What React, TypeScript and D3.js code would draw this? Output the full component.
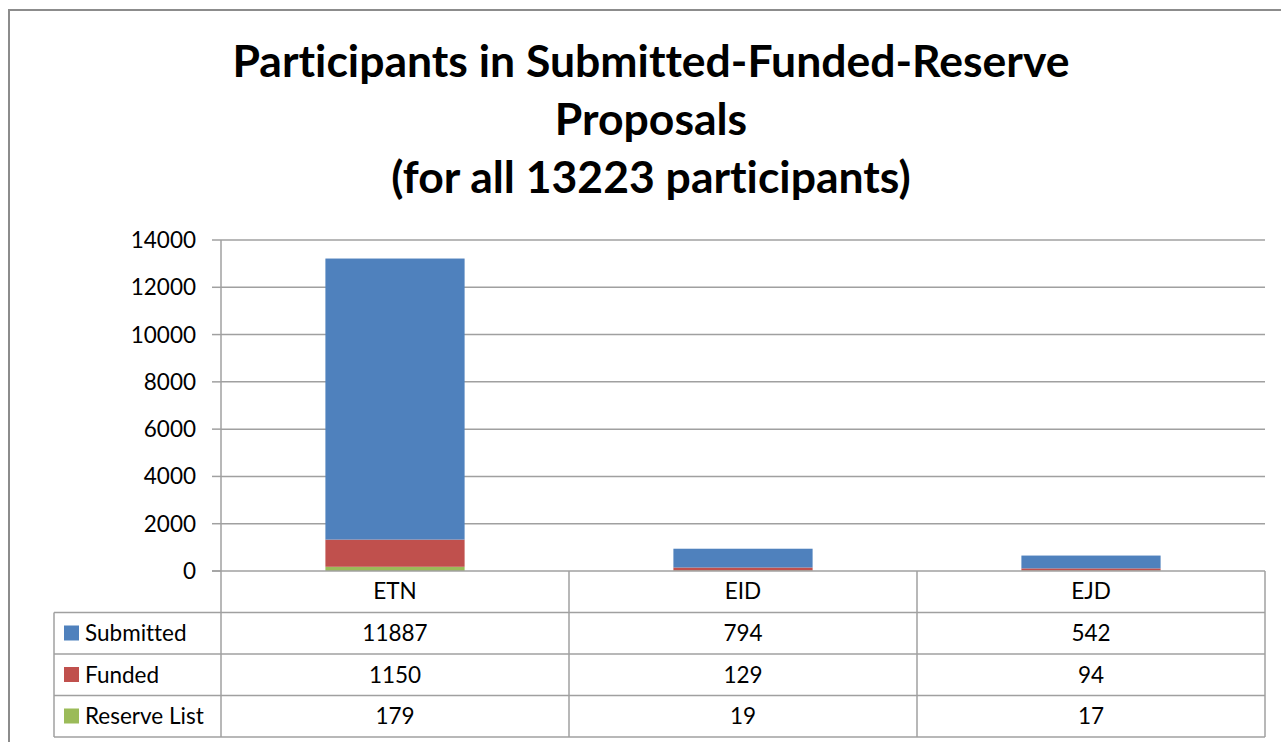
import React from "react";
import * as d3 from "d3";

const categories = ["ETN", "EID", "EJD"];
const seriesNames = ["Submitted", "Funded", "Reserve List"];
const submitted = [11887, 794, 542];
const funded = [1150, 129, 94];
const reserve = [179, 19, 17];
const yTicks = [0, 2000, 4000, 6000, 8000, 10000, 12000, 14000];
const titleLines = [
  "Participants in Submitted-Funded-Reserve",
  "Proposals",
  "(for all 13223 participants)",
];

const colors = ["#4F81BD", "#C0504D", "#9BBB59"];
const FONT = "Lato, 'Open Sans', sans-serif";

export default function App() {
  const W = 1281;
  const H = 742;
  const plotLeft = 221;
  const plotRight = 1265;
  const plotTop = 240;
  const plotBottom = 571;
  const tableLeft = 54;
  const rowH = 41.5;
  const headerBottom = 612.5;
  const tableBottom = headerBottom + rowH * 3;
  const fs = 22.5;

  const x = d3.scaleBand<string>().domain(categories).range([plotLeft, plotRight]).paddingInner(0).paddingOuter(0);
  const barW = x.bandwidth() * 0.4;
  const y = d3.scaleLinear().domain([0, 14000]).range([plotBottom, plotTop]);

  const rows = categories.map((c, i) => ({
    cat: c,
    "Reserve List": reserve[i],
    Funded: funded[i],
    Submitted: submitted[i],
  }));
  const stack = d3.stack<any>().keys(["Reserve List", "Funded", "Submitted"]);
  const stacked = stack(rows);
  const colorOf: Record<string, string> = {
    Submitted: colors[0],
    Funded: colors[1],
    "Reserve List": colors[2],
  };
  const seriesVals = [submitted, funded, reserve];
  const grid = "#a0a0a0";

  return (
    <svg
      width={W}
      height={H}
      style={{ position: "fixed", left: 0, top: 0, background: "#fff", fontVariantLigatures: "none" }}
      fontFamily={FONT}
    >
      <rect x={0} y={0} width={W} height={H} fill="#fff" />
      {/* outer border */}
      <path d={`M9,${H + 5} V10 H${W + 5}`} fill="none" stroke="#8c8c8c" strokeWidth={2} />
      {/* title */}
      {titleLines.map((t, i) => (
        <text key={i} x={651} y={77 + i * 58} textAnchor="middle" fontSize={44.5} fontWeight="bold" fill="#000">
          {t}
        </text>
      ))}
      {/* gridlines */}
      {yTicks.map((t) => (
        <g key={t}>
          {t > 0 && <line x1={plotLeft} x2={plotRight} y1={y(t)} y2={y(t)} stroke={grid} strokeWidth={1.5} />}
          <line x1={212} x2={plotLeft} y1={y(t)} y2={y(t)} stroke={grid} strokeWidth={1.5} />
          <text x={196} y={y(t) + 8} textAnchor="end" fontSize={fs} fill="#000">
            {t}
          </text>
        </g>
      ))}
      {/* bars */}
      {stacked.map((s) => (
        <g key={s.key}>
          {s.map((d, i) => (
            <rect
              key={i}
              x={(x(categories[i]) as number) + (x.bandwidth() - barW) / 2}
              y={y(d[1])}
              width={barW}
              height={y(d[0]) - y(d[1])}
              fill={colorOf[s.key]}
            />
          ))}
        </g>
      ))}
      {/* y axis line */}
      <line x1={plotLeft} x2={plotLeft} y1={plotTop} y2={tableBottom} stroke={grid} strokeWidth={1.5} />
      {/* axis / table top */}
      <line x1={212} x2={plotRight} y1={plotBottom} y2={plotBottom} stroke={grid} strokeWidth={1.5} />
      {/* column dividers */}
      {categories.map((c) => (
        <line
          key={c}
          x1={(x(c) as number) + x.bandwidth()}
          x2={(x(c) as number) + x.bandwidth()}
          y1={plotBottom}
          y2={tableBottom}
          stroke={grid}
          strokeWidth={1.5}
        />
      ))}
      {/* table horizontal lines */}
      {[0, 1, 2, 3].map((r) => (
        <line
          key={r}
          x1={tableLeft}
          x2={plotRight}
          y1={headerBottom + r * rowH}
          y2={headerBottom + r * rowH}
          stroke={grid}
          strokeWidth={1.5}
        />
      ))}
      <line x1={tableLeft} x2={tableLeft} y1={headerBottom} y2={tableBottom} stroke={grid} strokeWidth={1.5} />
      {/* category labels */}
      {categories.map((c) => (
        <text key={c} x={(x(c) as number) + x.bandwidth() / 2} y={599} textAnchor="middle" fontSize={fs} fill="#000">
          {c}
        </text>
      ))}
      {/* legend + values */}
      {seriesNames.map((n, r) => (
        <g key={n}>
          <rect x={64} y={headerBottom + r * rowH + 13} width={15} height={15} fill={colors[r]} />
          <text x={85} y={headerBottom + r * rowH + 28.5} fontSize={fs} fill="#000">
            {n}
          </text>
          {categories.map((c, i) => (
            <text
              key={c}
              x={(x(c) as number) + x.bandwidth() / 2}
              y={headerBottom + r * rowH + 28.5}
              textAnchor="middle"
              fontSize={fs}
              fill="#000"
            >
              {seriesVals[r][i]}
            </text>
          ))}
        </g>
      ))}
    </svg>
  );
}
